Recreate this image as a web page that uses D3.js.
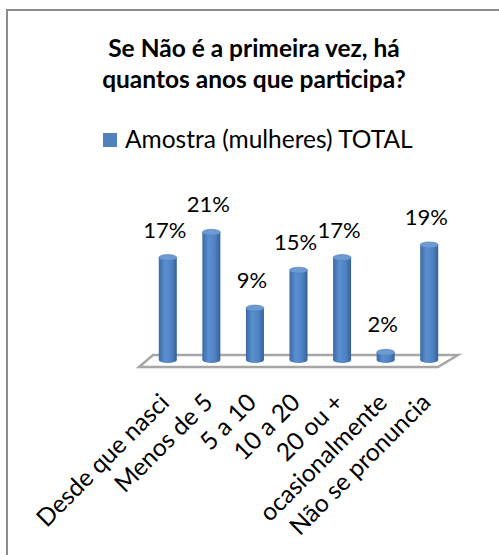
<!DOCTYPE html>
<html>
<head>
<meta charset="utf-8">
<title></title>
<style>
    body { margin: 0; background: #fff; }
    svg text { font-family: Lato, "Open Sans", sans-serif; fill: #000; }
</style>
</head>
<body>
<script src="https://cdnjs.cloudflare.com/ajax/libs/d3/7.8.5/d3.min.js"></script>
<script>

var w = 499;
var h = 555;

var titleLines = ["Se Não é a primeira vez, há", "quantos anos que participa?"];
var seriesName = "Amostra (mulheres) TOTAL";
var categories = ["Desde que nasci", "Menos de 5", "5 a 10", "10 a 20", "20 ou +", "ocasionalmente", "Não se pronuncia"];
var values = [17, 21, 9, 15, 17, 2, 19];
var labels = ["17%", "21%", "9%", "15%", "17%", "2%", "19%"];

var svg = d3.select("body")
            .append("svg")
            .attr("width", w)
            .attr("height", h);

// frame (only left and top edges are visible in the picture)
svg.append("path")
    .attr("d", "M7,560 L7,10 L505,10")
    .attr("fill", "none")
    .attr("stroke", "#8c8c8c")
    .attr("stroke-width", 2);

// title
svg.append("g")
    .selectAll("text")
    .data(titleLines)
    .enter()
    .append("text")
    .attr("x", 254)
    .attr("y", function(d, i) { return 57 + i * 31; })
    .attr("text-anchor", "middle")
    .style("font-weight", "bold")
    .style("font-size", "24.5px")
    .text(function(d) { return d; });

// legend
var legend = svg.append("g").attr("transform", "translate(103,133)");
legend.append("rect")
    .attr("width", 14)
    .attr("height", 14)
    .attr("fill", "#4f81bd");
legend.append("text")
    .attr("x", 22)
    .attr("y", 15)
    .style("font-size", "24.5px")
    .text(seriesName);

var xScale = d3.scaleBand()
               .domain(categories)
               .range([146, 451]);

var yScale = d3.scaleLinear()
               .domain([0, 25])
               .range([362, 204]);

var barW = 18;
var ry = 3;

// gradient for cylinders
var defs = svg.append("defs");
var grad = defs.append("linearGradient").attr("id", "cyl").attr("x1", 0).attr("x2", 1).attr("y1", 0).attr("y2", 0);
grad.append("stop").attr("offset", "0%").attr("stop-color", "#3a6aa6");
grad.append("stop").attr("offset", "35%").attr("stop-color", "#5b8fd0");
grad.append("stop").attr("offset", "70%").attr("stop-color", "#4f82c2");
grad.append("stop").attr("offset", "100%").attr("stop-color", "#35609a");

// floor
var floorY = 367, depth = 12, slant = 17;
var x0 = xScale.range()[0] - 7, x1 = xScale.range()[1] - 13;
svg.append("path")
    .attr("d", "M" + x0 + "," + floorY + " L" + x1 + "," + floorY +
               " L" + (x1 + slant + 3) + "," + (floorY - depth) +
               " L" + (x0 + slant - 3) + "," + (floorY - depth) + " Z")
    .attr("fill", "#fff")
    .attr("stroke", "#a6a6a6")
    .attr("stroke-width", 2.5);

var bars = svg.append("g")
              .selectAll("g")
              .data(values)
              .enter()
              .append("g")
              .attr("transform", function(d, i) {
                  return "translate(" + (xScale(categories[i]) + xScale.bandwidth() / 2) + ",0)";
              });

var baseY = yScale(0) - 2;

bars.append("ellipse")
    .attr("cx", 0)
    .attr("cy", baseY)
    .attr("rx", barW / 2)
    .attr("ry", ry)
    .attr("fill", "url(#cyl)");

bars.append("rect")
    .attr("x", -barW / 2)
    .attr("width", barW)
    .attr("y", function(d) { return yScale(d) + ry; })
    .attr("height", function(d) { return baseY - yScale(d) - ry; })
    .attr("fill", "url(#cyl)");

bars.append("ellipse")
    .attr("cx", 0)
    .attr("cy", function(d) { return yScale(d) + ry; })
    .attr("rx", barW / 2)
    .attr("ry", ry)
    .attr("fill", "#6d9ad3")
    .attr("stroke", "#4a7bb8")
    .attr("stroke-width", 0.6);

// value labels
bars.append("text")
    .attr("x", -3)
    .attr("y", function(d) { return yScale(d) - 17; })
    .attr("text-anchor", "middle")
    .style("font-size", "22px")
    .text(function(d, i) { return labels[i]; });

// category labels
svg.append("g")
    .selectAll("text")
    .data(categories)
    .enter()
    .append("text")
    .attr("text-anchor", "end")
    .attr("transform", function(d) {
        return "translate(" + (xScale(d) + xScale.bandwidth() / 2 + 3) + ",404) rotate(-45)";
    })
    .style("font-size", "24.5px")
    .text(function(d) { return d; });

</script>
</body>
</html>
